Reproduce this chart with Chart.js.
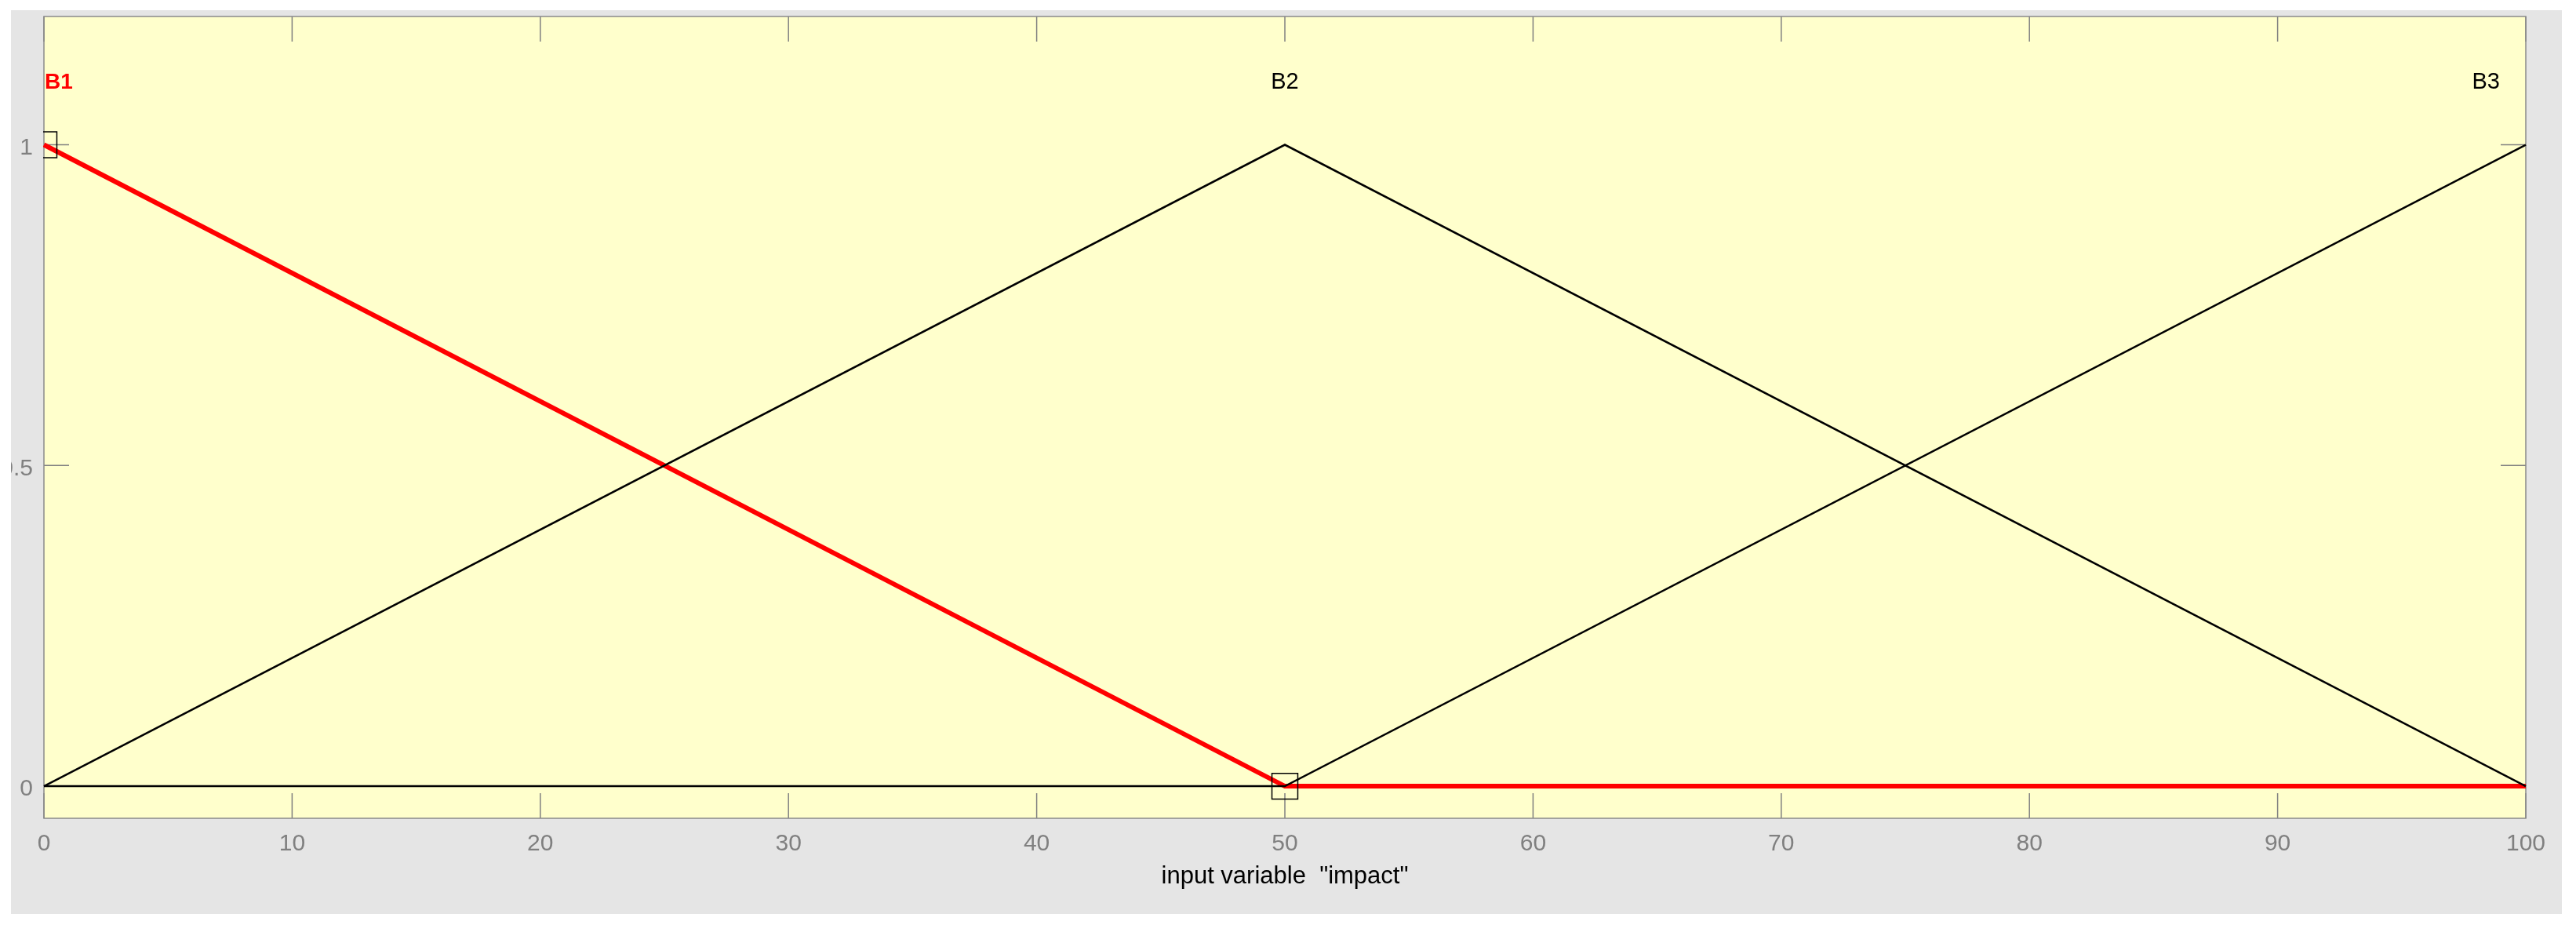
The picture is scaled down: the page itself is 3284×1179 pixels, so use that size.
<!DOCTYPE html>
<html>
<head>
<meta charset="utf-8">
<script src="https://cdn.jsdelivr.net/npm/chart.js@4/dist/chart.umd.min.js"></script>
<style>
  html, body { margin: 0; padding: 0; background: #ffffff; }
  #wrap { position: absolute; left: 14px; top: 13px; width: 3252px; height: 1152px; background: #e5e5e5; }
  canvas { display: block; }
</style>
</head>
<body>
<div id="wrap"><canvas id="mfChart" width="3252" height="1152"></canvas></div>
<script>
// membership functions of input variable "impact"
const xValues = [0, 50, 100];
const b1 = [1, 0, 0];
const b2 = [0, 1, 0];
const b3 = [0, 0, 1];
const mfNames = ["B1", "B2", "B3"];
const mfLabelX = [0, 50, 100];
const mfLabelY = 1.097;
const xTicks = [0, 10, 20, 30, 40, 50, 60, 70, 80, 90, 100];
const yTicks = [0, 0.5, 1];

const font = "'Liberation Sans', Arial, sans-serif";
const tickGray = "#808080";

function toPoints(ys) {
  return xValues.map((x, i) => ({ x: x, y: ys[i] }));
}

// yellow plot area, border and inward tick marks (top/bottom, left/right)
const axesBox = {
  id: "axesBox",
  beforeDatasetsDraw(chart) {
    const { ctx, chartArea: a, scales } = chart;
    ctx.save();
    ctx.fillStyle = "#ffffcc";
    ctx.fillRect(a.left, a.top, a.right - a.left, a.bottom - a.top);

    ctx.strokeStyle = tickGray;
    ctx.lineWidth = 1.5;
    ctx.beginPath();
    xTicks.forEach((v) => {
      const px = scales.x.getPixelForValue(v);
      ctx.moveTo(px, a.bottom);
      ctx.lineTo(px, a.bottom - 32);
      ctx.moveTo(px, a.top);
      ctx.lineTo(px, a.top + 32);
    });
    yTicks.forEach((v) => {
      const py = scales.y.getPixelForValue(v);
      ctx.moveTo(a.left, py);
      ctx.lineTo(a.left + 32, py);
      ctx.moveTo(a.right, py);
      ctx.lineTo(a.right - 32, py);
    });
    ctx.stroke();

    ctx.strokeStyle = "#8a8a8a";
    ctx.lineWidth = 1.5;
    ctx.strokeRect(a.left, a.top, a.right - a.left, a.bottom - a.top);
    ctx.restore();
  },
  afterDatasetsDraw(chart) {
    const { ctx, scales } = chart;
    const py = scales.y.getPixelForValue(mfLabelY);
    ctx.save();
    ctx.textBaseline = "middle";
    mfNames.forEach((name, i) => {
      let px = scales.x.getPixelForValue(mfLabelX[i]);
      if (i === 0) {
        ctx.textAlign = "left";
        ctx.fillStyle = "#ff0000";
        ctx.font = "bold 28px " + font;
        px += 1;
      } else if (i === mfNames.length - 1) {
        ctx.textAlign = "right";
        ctx.fillStyle = "#000000";
        ctx.font = "29px " + font;
        px -= 33;
      } else {
        ctx.textAlign = "center";
        ctx.fillStyle = "#000000";
        ctx.font = "29px " + font;
      }
      ctx.fillText(name, px, py);
    });
    ctx.restore();
  }
};

new Chart(document.getElementById("mfChart"), {
  type: "line",
  data: {
    datasets: [
      {
        label: "B2",
        data: toPoints(b2),
        borderColor: "#000000",
        borderWidth: 2.5,
        pointRadius: 0,
        order: 0,
        clip: 2
      },
      {
        label: "B3",
        data: toPoints(b3),
        borderColor: "#000000",
        borderWidth: 2.5,
        pointRadius: 0,
        order: 0,
        clip: 2
      },
      {
        label: "B1",
        data: toPoints(b1),
        borderColor: "#ff0000",
        borderWidth: 6,
        pointStyle: "rect",
        pointRadius: [23.3, 23.3, 0],
        pointBorderColor: "#000000",
        pointBackgroundColor: "rgba(0,0,0,0)",
        pointBorderWidth: 1.5,
        order: 1,
        clip: 1
      }
    ]
  },
  options: {
    responsive: false,
    devicePixelRatio: 1,
    animation: false,
    events: [],
    layout: { autoPadding: false, padding: { left: 0, right: 46, top: 8, bottom: 0 } },
    plugins: {
      legend: { display: false },
      tooltip: { enabled: false }
    },
    scales: {
      x: {
        type: "linear",
        min: 0,
        max: 100,
        grid: { display: false, drawTicks: false },
        border: { display: false },
        afterBuildTicks: (s) => { s.ticks = xTicks.map((v) => ({ value: v })); },
        afterFit: (s) => { s.height = 122; s.paddingLeft = 0; s.paddingRight = 0; },
        ticks: {
          color: tickGray,
          font: { family: font, size: 30 },
          padding: 15,
          maxRotation: 0,
          autoSkip: false,
          callback: (v) => String(v)
        },
        title: {
          display: true,
          text: 'input variable  "impact"',
          color: "#000000",
          font: { family: font, size: 31 },
          padding: { top: 0, bottom: 29 }
        }
      },
      y: {
        type: "linear",
        min: -0.05,
        max: 1.2,
        grid: { display: false, drawTicks: false },
        border: { display: false },
        afterBuildTicks: (s) => { s.ticks = yTicks.map((v) => ({ value: v })); },
        afterFit: (s) => { s.width = 42; s.paddingTop = 0; s.paddingBottom = 0; },
        ticks: {
          color: tickGray,
          font: { family: font, size: 30 },
          padding: 14,
          labelOffset: 4,
          autoSkip: false,
          callback: (v) => String(v)
        }
      }
    }
  },
  plugins: [axesBox]
});
</script>
</body>
</html>
